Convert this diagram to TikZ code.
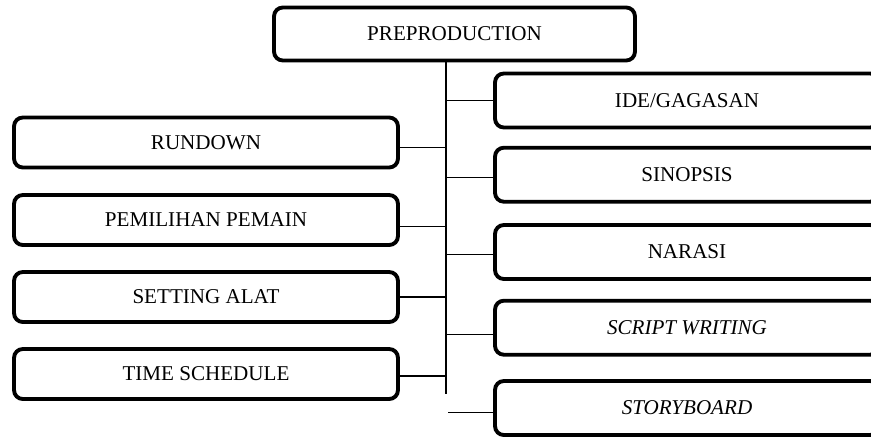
\documentclass[tikz,border=0pt]{standalone}
\usepackage{fontspec}
\setmainfont{Liberation Serif}
\usetikzlibrary{positioning}

\begin{document}
\begin{tikzpicture}[x=0.02cm,y=-0.02cm,
  box/.style={draw,line width=2.2pt,rounded corners=5pt,inner sep=0pt,
    minimum width=7.68cm,minimum height=1cm,font=\fontsize{12}{14}\selectfont},
  rbox/.style={box,minimum height=1.08cm},
  link/.style={line width=0.85pt}]
  \useasboundingbox (0,0) rectangle (871,439);
  \clip (0,0) rectangle (871,439);

  % top
  \node[box,minimum width=7.22cm,minimum height=1.06cm] (P) at (454.5,34) {PREPRODUCTION};

  % right column
  \node[rbox] (I)  at (687,100.5) {IDE/GAGASAN};
  \node[rbox] (S)  at (687,174.7) {SINOPSIS};
  \node[rbox] (N)  at (687,252)   {NARASI};
  \node[rbox] (SW) at (687,327.7) {\textit{SCRIPT WRITING}};
  \node[rbox] (SB) at (687,408)   {\textit{STORYBOARD}};

  % left column
  \node[box] (R)  at (206,142.5) {RUNDOWN};
  \node[box] (PP) at (206,220)   {PEMILIHAN PEMAIN};
  \node[box] (SA) at (206,297)   {SETTING ALAT};
  \node[box] (TS) at (206,374)   {TIME SCHEDULE};

  % spine
  \coordinate (A) at (P.south -| 446,0);
  \coordinate (B) at (446,394);
  \coordinate (C) at (448,0);
  \draw[link] (A) -- (B);

  \foreach \n/\d in {I/0,S/2.6,N/2.3,SW/6.6}
    \draw[link] ([yshift=-\d*0.02cm]\n.west -| A) -- ([yshift=-\d*0.02cm]\n.west);
  \draw[link] ([yshift=-4.7*0.02cm]SB.west -| C) -- ([yshift=-4.7*0.02cm]SB.west);
  \foreach \n/\d in {R/4.8,PP/6.7,SA/0,TS/2}
    \draw[link] ([yshift=-\d*0.02cm]\n.east) -- ([yshift=-\d*0.02cm]\n.east -| A);
\end{tikzpicture}
\end{document}
